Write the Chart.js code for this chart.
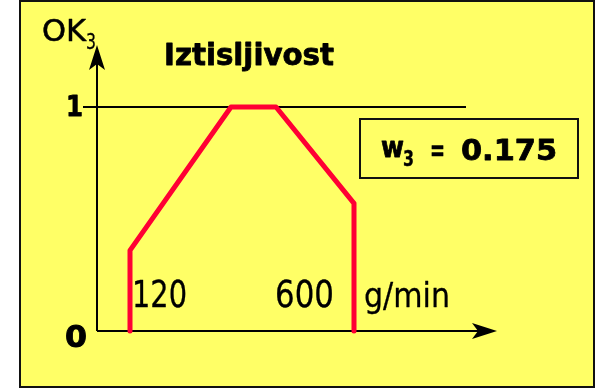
<!DOCTYPE html>
<html><head><meta charset="utf-8">
<script src="https://cdn.jsdelivr.net/npm/chart.js@4"></script>
<style>html,body{margin:0;padding:0;background:#fff}#wrap{width:598px;height:389px}</style>
</head><body><div id="wrap"><canvas id="c" width="598" height="389"></canvas></div>
<script>
// schematic flow position (axis units, 0..100 = axis length) and OK3 values
const flowPos = [8.25, 8.25, 33.5, 44.75, 64.25, 64.25];
const ok3Values = [0, 0.36, 1, 1, 0.57, 0];
const refLineX = [-3.5, 92.25];
const refLineY = [1, 1];
const xTickLabels = ['120', '600'];
const xTickAt = [8.25, 64.25];
const yTickLabels = ['0', '1'];
const yTickValues = [0, 1];
const axisXEnd = 100;
const axisYEnd = 1.277;
const titleText = 'Iztisljivost';
const yAxisName = 'OK';
const yAxisSub = '3';
const xUnit = 'g/min';
const weightName = 'w';
const weightSub = '3';
const weightValue = '0.175';

const YELLOW = 'rgb(255,255,102)';
const RED = 'rgb(255,0,51)';
const FONT = '"DejaVu Sans", sans-serif';

function arrow(ctx, tip, dir) {
  ctx.save();
  ctx.translate(tip[0], tip[1]);
  ctx.rotate(dir);
  ctx.beginPath();
  ctx.moveTo(0, 0);
  ctx.lineTo(-25, -8);
  ctx.lineTo(-19, 0);
  ctx.lineTo(-25, 8);
  ctx.closePath();
  ctx.fillStyle = '#000';
  ctx.fill();
  ctx.restore();
}

// draw text at a baseline, stretched horizontally to span [left, right]
function fitText(ctx, text, left, right, baseline, size, bold, extra) {
  ctx.save();
  ctx.font = (bold ? 'bold ' : '') + size + 'px ' + FONT;
  ctx.textAlign = 'left';
  ctx.textBaseline = 'alphabetic';
  const w = ctx.measureText(text).width;
  ctx.translate(left, baseline);
  ctx.scale((right - left) / w, 1);
  ctx.fillText(text, 0, 0);
  if (extra) {
    ctx.lineWidth = extra;
    ctx.lineJoin = 'round';
    ctx.strokeStyle = ctx.fillStyle;
    ctx.strokeText(text, 0, 0);
  }
  ctx.restore();
}

const deco = {
  id: 'deco',
  beforeDraw(chart) {
    const ctx = chart.ctx;
    ctx.save();
    ctx.fillStyle = '#fff';
    ctx.fillRect(0, 0, chart.width, chart.height);
    ctx.fillStyle = YELLOW;
    ctx.fillRect(20, 1, 574, 386);
    ctx.strokeStyle = '#111';
    ctx.lineWidth = 2;
    ctx.strokeRect(20, 1, 574, 386);
    ctx.restore();
  },
  beforeDatasetsDraw(chart) {
    const ctx = chart.ctx, xs = chart.scales.x, ys = chart.scales.y;
    const x0 = xs.getPixelForValue(0), y0 = ys.getPixelForValue(0);
    const xe = xs.getPixelForValue(axisXEnd), ye = ys.getPixelForValue(axisYEnd);
    ctx.save();
    ctx.strokeStyle = '#000';
    ctx.lineWidth = 2;
    ctx.beginPath();
    ctx.moveTo(x0, y0); ctx.lineTo(x0, ye + 10);
    ctx.moveTo(x0, y0); ctx.lineTo(xe - 10, y0);
    ctx.stroke();
    arrow(ctx, [x0, ye], -Math.PI / 2);
    arrow(ctx, [xe, y0], 0);
    ctx.restore();
  },
  afterDraw(chart) {
    const ctx = chart.ctx, xs = chart.scales.x, ys = chart.scales.y;
    ctx.save();
    ctx.fillStyle = '#000';
    // y axis name
    fitText(ctx, yAxisName, 42, 86, 41, 31, false, 0.5);
    fitText(ctx, yAxisSub, 86, 96, 49, 21, false, 0.3);
    // title
    fitText(ctx, titleText, 164, 334, 65, 30, true, 0.8);
    // y ticks
    const yt1 = ys.getPixelForValue(yTickValues[1]);
    const yt0 = ys.getPixelForValue(yTickValues[0]);
    fitText(ctx, yTickLabels[1], 66, 83, yt1 + 9, 29, true, 0.8);
    fitText(ctx, yTickLabels[0], 65, 87, yt0 + 16, 30, true, 0.8);
    // x ticks
    const px0 = xs.getPixelForValue(xTickAt[0]);
    const px1 = xs.getPixelForValue(xTickAt[1]);
    fitText(ctx, xTickLabels[0], px0 + 2, px0 + 57, yt0 - 24, 37, false, 0.3);
    fitText(ctx, xTickLabels[1], px1 - 79, px1 - 20, yt0 - 24, 37, false, 0.3);
    fitText(ctx, xUnit, px1 + 10, px1 + 96, yt0 - 24, 34, false, 0.3);
    // weight box
    ctx.lineWidth = 2;
    ctx.strokeStyle = '#111';
    ctx.strokeRect(360, 119, 218, 59);
    fitText(ctx, weightName, 381, 404, 157, 28, true, 0.8);
    fitText(ctx, weightSub, 403, 414, 166, 21, true, 0.4);
    fitText(ctx, '=', 430, 445, 160, 30, true, 0.6);
    fitText(ctx, weightValue, 461, 557, 160, 29, true, 0.8);
    ctx.restore();
  }
};

new Chart(document.getElementById('c'), {
  type: 'scatter',
  data: {
    datasets: [
      {
        data: refLineX.map((x, i) => ({x, y: refLineY[i]})),
        showLine: true, borderColor: '#000', borderWidth: 2, pointRadius: 0, order: 2
      },
      {
        data: flowPos.map((x, i) => ({x, y: ok3Values[i]})),
        showLine: true, borderColor: RED, borderWidth: 5, pointRadius: 0,
        borderCapStyle: 'round', borderJoinStyle: 'round', tension: 0, order: 1
      }
    ]
  },
  options: {
    responsive: false,
    animation: false,
    layout: { padding: 0 },
    plugins: { legend: { display: false }, tooltip: { enabled: false } },
    scales: {
      x: { type: 'linear', min: -24.25, max: 125.25, display: false },
      y: { type: 'linear', min: -58 / 224, max: 331 / 224, display: false }
    }
  },
  plugins: [deco]
});
</script>
</body></html>
